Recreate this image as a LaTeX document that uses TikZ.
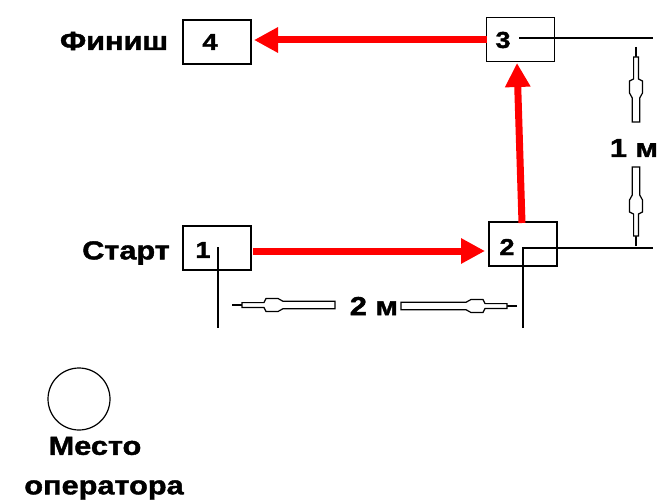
\documentclass[tikz,border=0pt]{standalone}
\usepackage{fontspec}
\setmainfont{Liberation Sans}
\newfontfamily\labfont[FakeStretch=1.18,FakeBold=1.6]{Liberation Sans}
\usetikzlibrary{arrows.meta}
\newcommand\dimarr[4]{%
 \begin{scope}[shift={(#1,#2)},rotate=#3]
  \draw[line width=2.2pt] (0,0) -- (12,0);
  \draw[dimline] (10,-2.4) -- (32,-2.4) -- (34,-6.5) -- (46,-6.5) -- (51,-3.7) -- (#4,-3.7) -- (#4,3.7) -- (51,3.7) -- (46,6.5) -- (34,6.5) -- (32,2.4) -- (10,2.4) -- cycle;
 \end{scope}}
\begin{document}
\begin{tikzpicture}[x=1pt,y=-1pt,
  box/.style={draw, line width=1.4pt, minimum width=68pt, minimum height=44pt, inner sep=0pt},
  lbl/.style={font=\labfont\bfseries\fontsize{26}{30}\selectfont, inner sep=0pt},
  num/.style={font=\labfont\bfseries\fontsize{23}{26}\selectfont, inner sep=0pt},
  thinline/.style={line width=1.2pt},
  redarrow/.style={draw=red, line width=7pt, -{Triangle[length=24pt,width=24pt]}},
  dimline/.style={line width=1.2pt, fill=white}]
\useasboundingbox (0,0) rectangle (662,503);
% boxes
\node[box] (b1) at (217,248) {};
\node[box] (b2) at (523,244) {};
\node[box] (b3) at (520.5,39.5) {};
\node[box] (b4) at (217,42) {};
% digits
\node[num] (n1) at (203,250) {1};
\node[num] (n2) at (507,247) {2};
\node[num] (n3) at (503,40) {3};
\node[num] (n4) at (210,42) {4};
% labels
\node[lbl] (fin) at (114,41) {Финиш};
\node[lbl] (start) at (126,253) {Старт};
\node[lbl] (m1) at (634,148) {1 м};
\node[lbl] (m2) at (374,306) {2 м};
\node[lbl] (mesto) at (95,446) {Место};
\node[lbl] (oper) at (104,490) {оператора};
% operator circle
\node[draw, circle, line width=1.2pt, minimum size=62pt, inner sep=0pt] (op) at (79,399) {};
% measurement lines
\coordinate (c1a) at (218,247);
\coordinate (c1b) at (218,328);
\coordinate (c2a) at (523,248);
\coordinate (c2b) at (523,328);
\coordinate (c2c) at (653,248);
\coordinate (c3a) at (519,38);
\coordinate (c3b) at (653,38);
\draw[thinline] (c1a) -- (c1b);
\draw[thinline] (c2b) -- (c2a) -- (c2c);
\draw[thinline] (c3a) -- (c3b);
% red arrows
\coordinate (r1s) at (253,251);
\coordinate (r1e) at (485,251);
\coordinate (r2s) at (522,223);
\coordinate (r2e) at (517,63);
\coordinate (r3s) at (487,40);
\coordinate (r3e) at (254,40);
\draw[redarrow] (r1s) -- (r1e);
\draw[redarrow] (r2s) -- (r2e);
\draw[redarrow] (r3s) -- (r3e);
% dimension arrows
\dimarr{232}{305}{0}{103}
\dimarr{517}{306}{180}{116}
\dimarr{636}{47}{-90}{75}
\dimarr{636}{246}{90}{79}
\end{tikzpicture}
\end{document}
